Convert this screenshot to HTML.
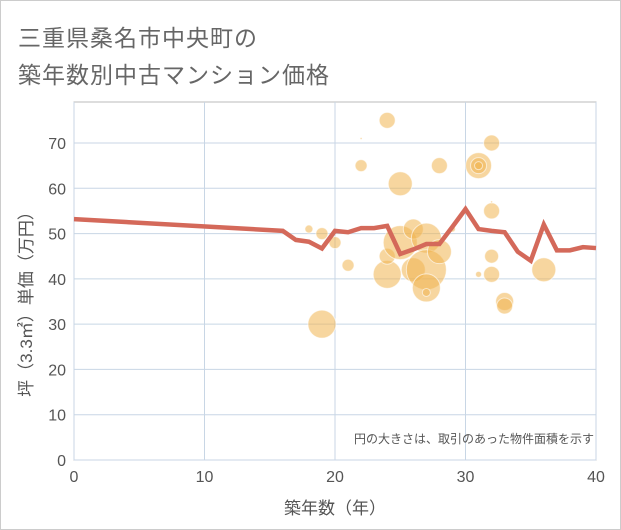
<!DOCTYPE html>
<html><head><meta charset="utf-8"><style>
body{margin:0;background:#fff;}
#wrap{position:relative;width:619px;height:528px;border:1px solid #ccc;background:#fff;font-family:"Liberation Sans","Noto Sans CJK JP",sans-serif;}
.t{position:absolute;left:17px;color:#666;font-size:23px;letter-spacing:1px;}
</style></head><body>
<div id="wrap">
<div class="t" style="top:18px">三重県桑名市中央町の</div>
<div class="t" style="top:55px">築年数別中古マンション価格</div>
<svg id="svg" width="621" height="530" style="position:absolute;left:-1px;top:-1px"></svg>
</div>
<script>
const xTicks=[0,10,20,30,40];
const yTicks=[0,10,20,30,40,50,60,70];
const lineX=[0,16,17,18,19,20,21,22,23,24,25,26,27,28,29,30,31,32,33,34,35,36,37,38,39,40];
const lineY=[53.2,50.6,48.6,48.2,46.7,50.6,50.3,51.2,51.2,51.7,45.5,46.5,47.7,47.7,51.5,55.4,51,50.6,50.3,46,44,52,46.3,46.3,47,46.8];
const bubX=[22,24,22,25,28,31,31,31,32,32,32,18,19,20,21,19,24,24,25,26,26,27,27,27,27,28,29,31,32,32,33,33,36];
const bubY=[71,75,65,61,65,65,65,65,70,55,57,51,50,48,43,30,41,45,48,51,42,49,42,38,37,46,51,41,45,41,35,34,42];
const bubR=[1,8,6,12,8,13,8,4,8,8,1,4,6,6,6,14,14,8,17,10,12,15,20,14,4,12,3,3,7,8,9,8,12];
const X0=74,X1=596,Y0=460,Y1=143;
const sx=v=>X0+(X1-X0)*v/40, sy=v=>Y0-(Y0-Y1)*v/70;
const svg=document.getElementById('svg');const NS='http://www.w3.org/2000/svg';
function mk(tag,attrs,name){const e=document.createElementNS(NS,tag);for(const k in attrs)e.setAttribute(k,attrs[k]);


svg.appendChild(e);return e;}
mk('rect',{x:X0,y:102,width:X1-X0,height:Y0-102,fill:'none',stroke:'#bbb'},'plot-area');
xTicks.forEach(v=>{mk('line',{x1:sx(v),x2:sx(v),y1:102,y2:Y0,stroke:'#c8d6e5','stroke-width':1},'x-gridline');
const t=mk('text',{x:sx(v),y:482,'text-anchor':'middle','font-size':16,fill:'#555','font-family':'Liberation Sans'},'x-tick-label');t.textContent=v;});
yTicks.forEach(v=>{mk('line',{x1:X0,x2:X1,y1:sy(v),y2:sy(v),stroke:'#c8d6e5','stroke-width':1},'y-gridline');
const t=mk('text',{x:66,y:sy(v)+6,'text-anchor':'end','font-size':16,fill:'#555','font-family':'Liberation Sans'},'y-tick-label');t.textContent=v;});
bubX.forEach((v,i)=>{mk('circle',{cx:sx(v),cy:sy(bubY[i]),r:bubR[i],fill:'rgba(240,180,80,0.55)',stroke:'rgba(255,255,255,0.6)','stroke-width':1},'bubble');});
mk('polyline',{points:lineX.map((v,i)=>sx(v)+','+sy(lineY[i])).join(' '),fill:'none',stroke:'#d4695a','stroke-width':4.5,'stroke-linejoin':'miter'},'average-price-line');
const n=mk('text',{x:594,y:443,'text-anchor':'end','font-size':12,fill:'#555','font-family':'Liberation Sans, Noto Sans CJK JP, sans-serif'},'bubble-size-note');n.textContent='円の大きさは、取引のあった物件面積を示す';
const xt=mk('text',{x:335,y:514,'text-anchor':'middle','font-size':17,fill:'#555','font-family':'Liberation Sans, Noto Sans CJK JP, sans-serif'},'x-axis-title');xt.textContent='築年数（年）';
const yt=mk('text',{x:0,y:0,'text-anchor':'middle','font-size':17,fill:'#555','font-family':'Liberation Sans, Noto Sans CJK JP, sans-serif',transform:'translate(32,300) rotate(-90)'},'y-axis-title');yt.textContent='坪（3.3㎡）単価（万円）';
</script>
</body></html>
